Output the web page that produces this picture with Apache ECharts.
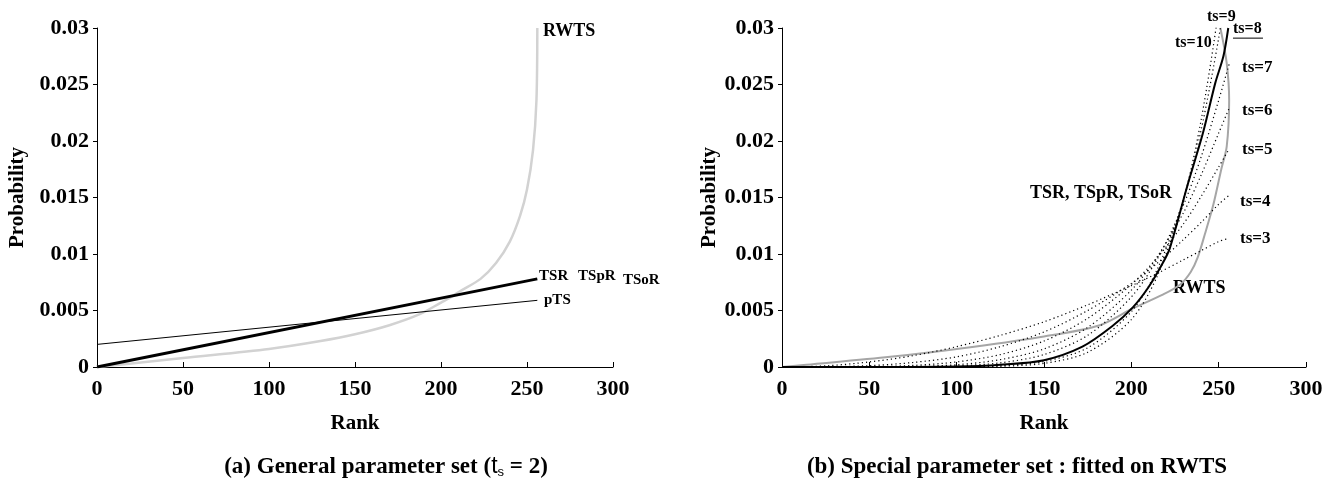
<!DOCTYPE html>
<html>
<head>
<meta charset="utf-8">
<script src="https://cdn.jsdelivr.net/npm/echarts@6/dist/echarts.min.js"></script>
<style>
html, body { margin: 0; padding: 0; background: #fff; }
#chart { width: 1338px; height: 488px; }
</style>
</head>
<body>
<div id="chart"></div>
<script>
// ---- panel (a): general parameter set, ts = 2 ----
const rankLine = [0, 256]
const tsrA = [0, 0.0078]
const ptsA = [0.002, 0.0059]

const rankRwtsA = [0, 20, 50, 100, 130, 150, 170, 188, 200, 206, 211, 223, 232, 240, 246, 250, 253.5, 255.5, 256]
const rwtsA = [0, 0.0003, 0.0008, 0.0016, 0.0023, 0.0029, 0.0037, 0.0047, 0.0057, 0.0062, 0.0067, 0.0078, 0.0092, 0.0111, 0.0134, 0.0157, 0.0192, 0.0236, 0.03]

// ---- panel (b): special parameter set fitted on RWTS ----
const rankRwtsB = [0, 14, 62, 110, 150, 182, 201, 218, 228, 234, 238, 242, 247, 251.5, 254.6, 256, 254.6, 251]
const rwtsB = [0, 0.0002, 0.0009, 0.0018, 0.0027, 0.0037, 0.0052, 0.0064, 0.0073, 0.0084, 0.0097, 0.0117, 0.0144, 0.0175, 0.0195, 0.0236, 0.0269, 0.03]

const rankTs8 = [0, 50, 100, 125, 150, 172, 189, 201, 210, 218, 222, 232, 241, 248, 252.7, 255.5]
const ts8 = [0, 0, 0.00004, 0.0002, 0.0006, 0.0018, 0.0036, 0.0053, 0.0071, 0.0092, 0.0105, 0.016, 0.0207, 0.0251, 0.0275, 0.03]

const rankTs = [0, 25, 50, 75, 100, 125, 150, 175, 200, 215, 230, 240, 250, 256]
const ts3 = [0, 0.0001, 0.00045, 0.001, 0.0018, 0.0028, 0.004, 0.0055, 0.0072, 0.0083, 0.0095, 0.0103, 0.0111, 0.0114]
const ts4 = [0, 0.00002, 0.00012, 0.0004, 0.0009, 0.0018, 0.0031, 0.005, 0.0074, 0.0092, 0.0113, 0.0128, 0.0144, 0.0152]
const ts5 = [0, 0, 0.00003, 0.00014, 0.00045, 0.0011, 0.0023, 0.0043, 0.0073, 0.0097, 0.0127, 0.0151, 0.0177, 0.0193]
const ts6 = [0, 0, 0.00001, 0.00005, 0.0002, 0.00065, 0.0016, 0.0035, 0.0068, 0.0098, 0.0137, 0.017, 0.0207, 0.0229]
const ts7 = [0, 0, 0, 0.00002, 0.0001, 0.00037, 0.0011, 0.0028, 0.0062, 0.0096, 0.0144, 0.0186, 0.0236, 0.0268]
const ts9 = [0, 0, 0, 0, 0.00002, 0.00011, 0.00049, 0.0017, 0.0049, 0.0087, 0.0149, 0.021, 0.0291, 0.0352]
const ts10 = [0, 0, 0, 0, 0.00001, 0.00006, 0.00032, 0.0013, 0.0042, 0.0081, 0.0149, 0.0219, 0.0316, 0.0391]
const dottedSets = [ts3, ts4, ts5, ts6, ts7, ts9, ts10]

// line labels: [grid, rank, probability, text, fontSize]
const notes = [
  [0, 259.3, 0.0297, 'RWTS', 18],
  [0, 257, 0.0080, 'TSR', 15],
  [0, 279.7, 0.0080, 'TSpR', 15],
  [0, 305.8, 0.0077, 'TSoR', 15],
  [0, 259.9, 0.0059, 'pTS', 15],
  [1, 243.3, 0.0310, 'ts=9', 16],
  [1, 258.2, 0.0299, 'ts=8', 16],
  [1, 225, 0.0287, 'ts=10', 16],
  [1, 263.4, 0.0265, 'ts=7', 17],
  [1, 263.4, 0.0227, 'ts=6', 17],
  [1, 263.4, 0.0192, 'ts=5', 17],
  [1, 262.2, 0.0146, 'ts=4', 17],
  [1, 262.2, 0.0114, 'ts=3', 17],
  [1, 142, 0.0154, 'TSR, TSpR, TSoR', 18],
  [1, 223.9, 0.0070, 'RWTS', 18]
]

const FONT = "'Liberation Serif', 'Times New Roman', serif"
const zip = (xs, ys) => xs.map((x, i) => [x, ys[i]])

function xAxisFor(gridIndex) {
  return {
    gridIndex: gridIndex,
    type: 'value',
    min: 0,
    max: 300,
    interval: 50,
    name: 'Rank',
    nameLocation: 'middle',
    nameGap: 46,
    nameTextStyle: { color: '#000', fontSize: 21, fontWeight: 'bold', fontFamily: FONT },
    axisLine: { show: true, lineStyle: { color: '#000', width: 1 } },
    axisTick: { show: true, inside: true, length: 5, lineStyle: { color: '#000' } },
    axisLabel: { margin: 11, color: '#000', fontSize: 22, fontWeight: 'bold', fontFamily: FONT },
    splitLine: { show: false }
  }
}

function yAxisFor(gridIndex, gap) {
  return {
    gridIndex: gridIndex,
    type: 'value',
    min: 0,
    max: 0.03,
    interval: 0.005,
    name: 'Probability',
    nameLocation: 'middle',
    nameGap: gap,
    nameTextStyle: { color: '#000', fontSize: 21, fontWeight: 'bold', fontFamily: FONT },
    axisLine: { show: true, lineStyle: { color: '#000', width: 1 } },
    axisTick: { show: true, inside: false, length: 4, lineStyle: { color: '#000' } },
    axisLabel: { margin: 8, color: '#000', fontSize: 22, fontWeight: 'bold', fontFamily: FONT },
    splitLine: { show: false }
  }
}

function line(gridIndex, data, color, width, type, smooth) {
  return {
    type: 'line',
    xAxisIndex: gridIndex,
    yAxisIndex: gridIndex,
    data: data,
    showSymbol: false,
    smooth: smooth,
    clip: true,
    silent: true,
    lineStyle: { color: color, width: width, type: type }
  }
}

const series = [
  line(0, zip(rankRwtsA, rwtsA), '#d2d2d2', 2.5, 'solid', 0.3),
  line(0, zip(rankLine, ptsA), '#000', 1, 'solid', false),
  line(0, zip(rankLine, tsrA), '#000', 3, 'solid', false),
  line(1, zip(rankRwtsB, rwtsB), '#a6a6a6', 2, 'solid', 0.3)
]
dottedSets.forEach(vals => {
  series.push(line(1, zip(rankTs, vals), '#000', 1.2, [1.2, 3], 0.3))
})
series.push(line(1, zip(rankTs8, ts8), '#000', 2, 'solid', 0.3))

const chart = echarts.init(document.getElementById('chart'))
chart.setOption({
  animation: false,
  backgroundColor: '#fff',
  grid: [
    { left: 97, top: 28, width: 516, height: 339 },
    { left: 782, top: 28, width: 524, height: 339 }
  ],
  xAxis: [xAxisFor(0), xAxisFor(1)],
  yAxis: [yAxisFor(0, 69), yAxisFor(1, 62)],
  series: series
})

// place the line labels through the axes, then the captions
const graphics = []
notes.forEach(n => {
  const pt = chart.convertToPixel({ gridIndex: n[0] }, [n[1], n[2]])
  graphics.push({
    type: 'text',
    x: pt[0],
    y: pt[1],
    silent: true,
    style: {
      text: n[3],
      fill: '#000',
      font: 'bold ' + n[4] + 'px ' + FONT,
      textAlign: 'left',
      textVerticalAlign: 'middle'
    }
  })
  if (n[3] === 'ts=8') {
    graphics.push({
      type: 'line',
      silent: true,
      shape: { x1: pt[0], y1: pt[1] + 9, x2: pt[0] + 30, y2: pt[1] + 9 },
      style: { stroke: '#000', lineWidth: 1 }
    })
  }
})

graphics.push({
  type: 'text',
  x: 386,
  y: 467,
  silent: true,
  style: {
    text: '{b|(a) General parameter set (}{t|t}{s|s}{b| = 2)}',
    textAlign: 'center',
    textVerticalAlign: 'middle',
    rich: {
      b: { fontSize: 23, fontWeight: 'bold', fontFamily: FONT, fill: '#000' },
      t: { fontSize: 23, fontFamily: "'Liberation Sans', Arial, sans-serif", fill: '#000' },
      s: { fontSize: 13, fontFamily: "'Liberation Sans', Arial, sans-serif", fill: '#000', verticalAlign: 'bottom', padding: [6, 0, 0, 0] }
    }
  }
})
graphics.push({
  type: 'text',
  x: 1017,
  y: 467,
  silent: true,
  style: {
    text: '(b) Special parameter set : fitted on RWTS',
    fill: '#000',
    font: 'bold 23px ' + FONT,
    textAlign: 'center',
    textVerticalAlign: 'middle'
  }
})

chart.setOption({ graphic: graphics })
</script>
</body>
</html>
